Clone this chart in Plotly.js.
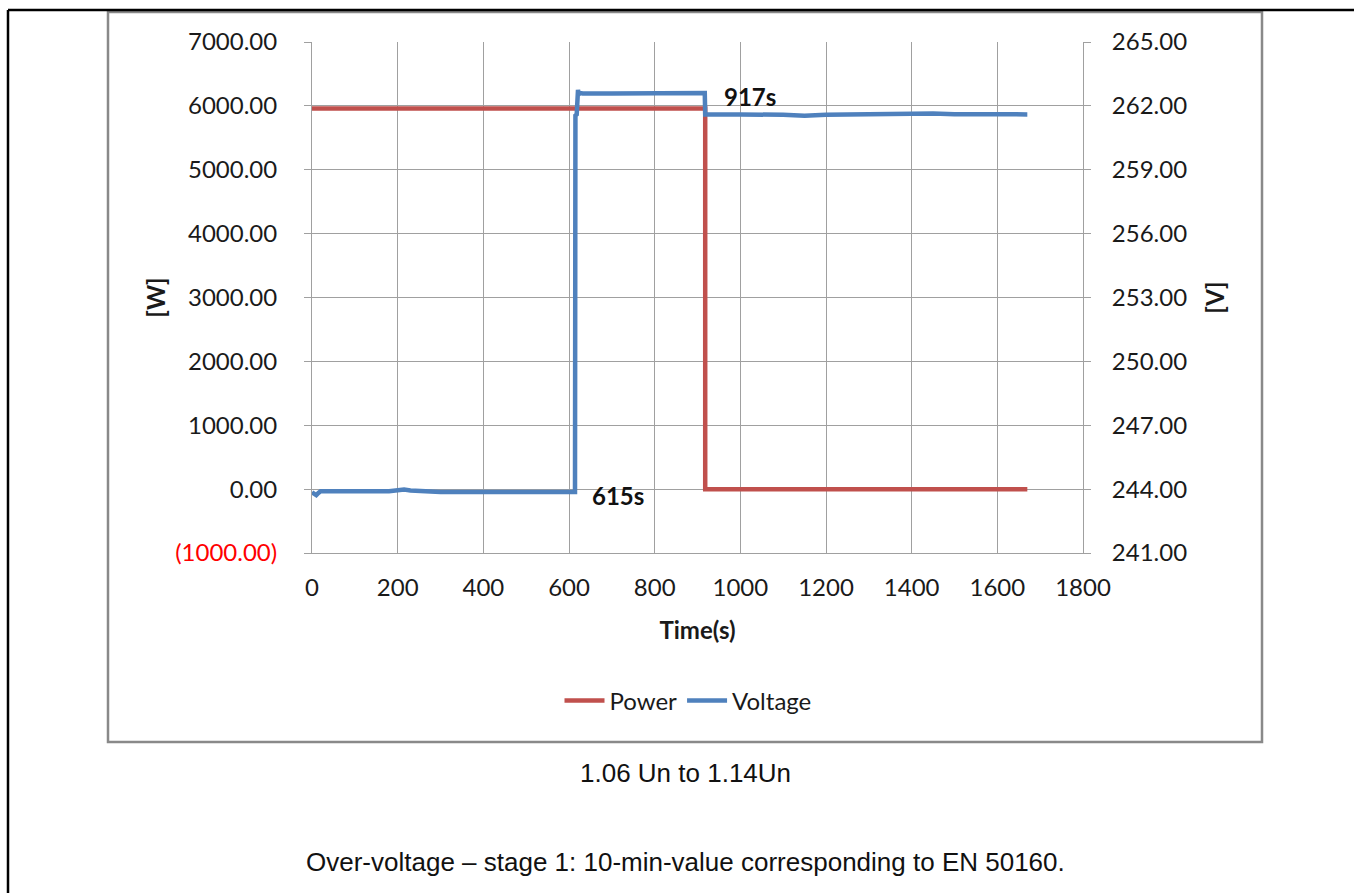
<!DOCTYPE html>
<html>
<head>
<meta charset="utf-8">
<script src="https://cdn.plot.ly/plotly-3.0.1.min.js"></script>
<style>
html,body{margin:0;padding:0;background:#fff;}
#chart{width:1354px;height:893px;}
</style>
</head>
<body>
<div id="chart"></div>
<script>
// ---- data ----
const powerTime = [0, 918, 918, 1670];
const powerW    = [5960, 5960, 0, 0];

const voltTime = [0, 5, 10, 15, 20, 60, 100, 140, 180, 200, 215, 230, 260, 300, 400, 500, 600, 614,
                  615, 618, 621, 623, 627, 632, 700, 800, 900, 917,
                  918, 940, 1000, 1100, 1150, 1200, 1300, 1350, 1400, 1450, 1500, 1600, 1670];
const voltV    = [243.85, 243.80, 243.72, 243.82, 243.90, 243.90, 243.92, 243.90, 243.90, 243.93, 243.98, 243.94, 243.90, 243.87, 243.86, 243.86, 243.86, 243.86,
                  261.55, 261.60, 262.75, 262.55, 262.60, 262.58, 262.58, 262.60, 262.60, 262.60,
                  261.60, 261.61, 261.60, 261.58, 261.54, 261.58, 261.60, 261.61, 261.66, 261.64, 261.61, 261.60, 261.60];

const wTicks = [-1000, 0, 1000, 2000, 3000, 4000, 5000, 6000, 7000];
const vTicks = [241, 244, 247, 250, 253, 256, 259, 262, 265];
const xTicks = [0, 200, 400, 600, 800, 1000, 1200, 1400, 1600, 1800];

const events = [{t: 615, label: '615s', w: 0}, {t: 917, label: '917s', w: 5960}];

const caption1 = '1.06 Un to 1.14Un';
const caption2 = 'Over-voltage \u2013 stage 1: 10-min-value corresponding to EN 50160.';

// ---- build ----
const wText = wTicks.map(v => v < 0
  ? '<span style="color:#ff0000">(' + Math.abs(v).toFixed(2) + ')</span>'
  : v.toFixed(2));
const vText = vTicks.map(v => v.toFixed(2));

const FONT = 'Lato, "Open Sans", sans-serif';
const ARIAL = '"Liberation Sans", Arial, sans-serif';
const GRID = '#a0a0a0';
const TXT = '#1a1a1a';
const FS = 24;

const traces = [
  {x: powerTime, y: powerW, name: 'Power', type: 'scatter', mode: 'lines',
   line: {color: '#C0504D', width: 4.5}, yaxis: 'y'},
  {x: voltTime, y: voltV, name: 'Voltage', type: 'scatter', mode: 'lines',
   line: {color: '#4F81BD', width: 4.5}, yaxis: 'y2'}
];

const W = 1354, H = 893;
const L = 312, R = 1083, T = 42, B = 553;
const pw = R - L, ph = B - T;
const px = xp => (xp - L) / pw;
const py = yp => (B - yp) / ph;

const layout = {
  width: W, height: H,
  margin: {l: L, r: W - R, t: T, b: H - B, pad: 0},
  paper_bgcolor: '#ffffff', plot_bgcolor: '#ffffff',
  font: {family: FONT, size: FS, color: TXT},
  showlegend: true,
  legend: {orientation: 'h', x: px(688), xanchor: 'center', y: py(701), yanchor: 'middle',
           font: {family: FONT, size: FS, color: TXT}, bgcolor: 'rgba(0,0,0,0)',
           itemwidth: 40, tracegroupgap: 0},
  xaxis: {range: [0, 1800], tickvals: xTicks, ticktext: xTicks.map(String),
          showgrid: true, gridcolor: GRID, gridwidth: 1,
          showline: true, linecolor: GRID, linewidth: 1, ticks: '', zeroline: false,
          ticklabelstandoff: 13,
          tickfont: {family: FONT, size: FS, color: TXT},
          title: {text: '<b>Time(s)</b>', font: {family: FONT, size: FS, color: TXT}, standoff: 22},
          fixedrange: true},
  yaxis: {range: [-1000, 7000], tickvals: wTicks, ticktext: wText,
          showgrid: true, gridcolor: GRID, gridwidth: 1,
          showline: true, linecolor: GRID, linewidth: 1, zeroline: false,
          ticks: 'outside', ticklen: 7, tickcolor: GRID, ticklabelstandoff: 22,
          tickfont: {family: FONT, size: FS, color: TXT},
          title: {text: '<b>[W]</b>', font: {family: FONT, size: FS, color: TXT}, standoff: 2},
          fixedrange: true},
  yaxis2: {range: [241, 265], tickvals: vTicks, ticktext: vText, overlaying: 'y', side: 'right',
           showgrid: false, showline: true, linecolor: GRID, linewidth: 1, zeroline: false,
           ticks: 'outside', ticklen: 7, tickcolor: GRID, ticklabelstandoff: 16,
           tickfont: {family: FONT, size: FS, color: TXT},
           title: {text: '<b>[V]</b>', font: {family: FONT, size: FS, color: TXT}, standoff: 21},
           fixedrange: true},
  annotations: [
    ...events.map(e => ({x: e.t, y: e.w, xref: 'x', yref: 'y', text: '<b>' + e.label + '</b>',
      showarrow: false, xanchor: 'left', yanchor: 'middle',
      xshift: e.t > 800 ? 17 : 15, yshift: e.t > 800 ? 12 : -6,
      font: {family: FONT, size: FS, color: '#111'}})),
    {x: px(685), y: py(773), xref: 'paper', yref: 'paper', text: caption1, showarrow: false,
     xanchor: 'center', yanchor: 'middle', font: {family: ARIAL, size: 26, color: '#111'}},
    {x: px(685), y: py(862), xref: 'paper', yref: 'paper', text: caption2, showarrow: false,
     xanchor: 'center', yanchor: 'middle', font: {family: ARIAL, size: 26, color: '#111'}}
  ],
  shapes: [
    {type: 'rect', xref: 'paper', yref: 'paper', x0: px(108), x1: px(1262), y0: py(742), y1: py(12),
     line: {color: '#898989', width: 2.5}, fillcolor: 'rgba(0,0,0,0)', layer: 'below'},
    {type: 'line', xref: 'paper', yref: 'paper', x0: px(8), x1: px(1360), y0: py(10), y1: py(10),
     line: {color: '#000', width: 2.5}},
    {type: 'line', xref: 'paper', yref: 'paper', x0: px(8), x1: px(8), y0: py(10), y1: py(900),
     line: {color: '#000', width: 2.5}}
  ]
};

Plotly.newPlot('chart', traces, layout, {displayModeBar: false, staticPlot: true});
</script>
</body>
</html>
